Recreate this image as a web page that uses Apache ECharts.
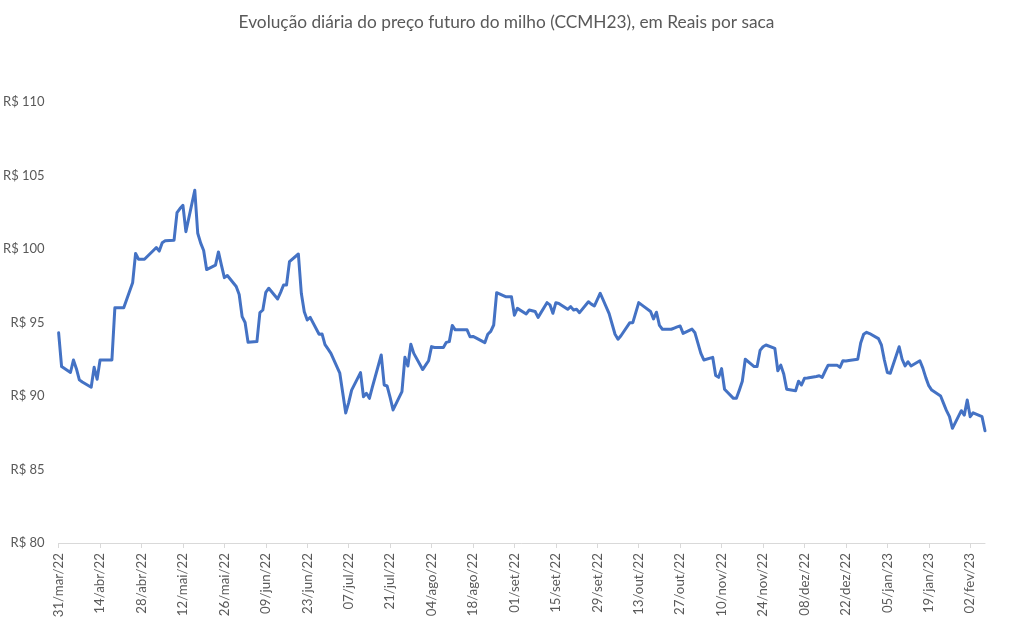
<!DOCTYPE html>
<html>
<head>
<meta charset="utf-8">
<script src="https://cdn.jsdelivr.net/npm/echarts@6/dist/echarts.min.js"></script>
<style>
html,body{margin:0;padding:0;background:#fff;}
#chart{width:1013px;height:630px;}
</style>
</head>
<body>
<div id="chart"></div>
<script>
// Chart text
const titleText = 'Evolução diária do preço futuro do milho (CCMH23), em Reais por saca';
const monthNames = ['jan','fev','mar','abr','mai','jun','jul','ago','set','out','nov','dez'];
const startDate = '2022-03-31';
const endDate = '2023-02-07';
const yTicks = [80, 85, 90, 95, 100, 105, 110];

// Closing prices for each weekday (Mon..Fri), null = no session
const firstDays = [94.3, 92.0];                     // Thu 31/mar, Fri 01/abr
const weeksApr = [
  [91.6, 92.45, 91.86, 91.1, 90.95],
  [90.6, 91.95, 91.14, 92.45, null],
  [92.45, 96.0, 96.0, null, 96.0],
  [97.7, 99.7, 99.3, 99.3, 99.3]
];
const weeksMay = [
  [99.9, 100.1, 99.86, 100.43, 100.56],
  [100.6, 102.47, 102.75, 102.97, 101.18],
  [104.0, 101.07, 100.4, 99.9, 98.6],
  [98.9, 99.8, 98.9, 98.05, 98.2],
  [97.45, 96.9, 95.4, 95.0, 93.65]
];
const weeksJun = [
  [93.7, 95.67, 95.85, 97.05, 97.33],
  [96.6, 97.05, 97.55, 97.55, 99.14],
  [99.66, 96.99, 95.73, 95.17, 95.35],
  [94.2, 94.22, 93.5, 93.2, 92.9]
];
const weeksJul = [
  [91.55, 90.2, 88.85, 89.55, 90.4],
  [91.59, 89.95, 90.18, 89.84, 90.6],
  [92.79, 90.75, 90.68, 89.9, 89.05],
  [90.3, 92.63, 92.04, 93.52, 92.9]
];
const weeksAug = [
  [91.8, 92.1, 92.4, 93.36, 93.3],
  [93.3, 93.65, 93.7, 94.8, 94.5],
  [94.5, 94.5, 94.03, 94.05, 93.95],
  [93.63, 94.2, 94.4, 94.83, 97.03],
  [96.76, 96.76, 96.76, 95.5, 95.96]
];
const weeksSep = [
  [95.58, 95.85, null, 95.75, 95.35],
  [96.35, 96.2, 95.63, 96.35, 96.3],
  [95.9, 96.08, 95.85, 95.9, 95.67],
  [96.41, 96.25, 96.12, 96.55, 96.99]
];
const weeksOct = [
  [95.6, 94.9, 94.2, 93.86, 94.1],
  [94.99, 94.99, null, 96.35, 96.2],
  [95.75, 95.25, 95.7, 94.8, 94.54],
  [94.54, 94.62, 94.7, 94.76, 94.26],
  [94.55, 94.3, null, 92.9, 92.45]
];
const weeksNov = [
  [92.63, 91.4, 91.27, 91.86, 90.46],
  [89.84, 89.84, 90.4, 91.0, 92.5],
  [92.0, 92.0, 93.1, 93.35, 93.47],
  [93.24, 91.72, 92.1, 91.5, 90.46]
];
const weeksDec = [
  [90.36, 91.0, 90.75, 91.2, 91.22],
  [91.33, 91.38, 91.27, 91.7, 92.1],
  [92.1, 91.95, 92.4, 92.38, 92.42],
  [92.5, 93.6, 94.2, 94.33, 94.25]
];
const weeksJan = [
  [93.9, 93.47, 92.45, 91.6, 91.55],
  [93.35, 92.5, 92.05, 92.33, 92.04],
  [92.4, 91.9, 91.25, 90.7, 90.4],
  [90.0, 89.5, 89.0, 88.6, 87.8],
  [89.0, 88.7, 89.73, 88.59, 88.86]
];
const lastDays = [88.59, 87.64];                    // Mon 06/fev, Tue 07/fev

// Build calendar-day categories and map weekday prices onto them
const weekdayPrices = [].concat(
  firstDays,
  ...weeksApr, ...weeksMay, ...weeksJun, ...weeksJul, ...weeksAug,
  ...weeksSep, ...weeksOct, ...weeksNov, ...weeksDec, ...weeksJan,
  lastDays
);
const categories = [];
const seriesData = [];
let wi = 0;
const s = new Date(startDate + 'T00:00:00Z');
const e = new Date(endDate + 'T00:00:00Z');
for (let t = s.getTime(); t <= e.getTime(); t += 86400000) {
  const d = new Date(t);
  const dd = String(d.getUTCDate()).padStart(2, '0');
  const yy = String(d.getUTCFullYear()).slice(2);
  categories.push(dd + '/' + monthNames[d.getUTCMonth()] + '/' + yy);
  const wd = d.getUTCDay();
  if (wd === 0 || wd === 6) {
    seriesData.push(null);
  } else {
    seriesData.push(wi < weekdayPrices.length ? weekdayPrices[wi] : null);
    wi++;
  }
}

const fontFam = 'Lato, Carlito, "Open Sans", sans-serif';
const chart = echarts.init(document.getElementById('chart'), null, {renderer: 'canvas'});
chart.setOption({
  animation: false,
  backgroundColor: '#ffffff',
  title: {
    text: titleText,
    left: 'center',
    top: 9,
    textStyle: {color: '#595959', fontSize: 17.3, fontWeight: 'normal', fontFamily: fontFam}
  },
  grid: {left: 57, right: 28, top: 102, bottom: 87, containLabel: false},
  xAxis: {
    type: 'category',
    data: categories,
    boundaryGap: false,
    axisLine: {show: true, lineStyle: {color: '#D9D9D9', width: 1}},
    axisTick: {show: true, interval: 13, length: 5, lineStyle: {color: '#D9D9D9'}},
    axisLabel: {
      interval: 13, rotate: 90, margin: 10,
      color: '#595959', fontSize: 13.3, fontFamily: fontFam
    },
    splitLine: {show: false}
  },
  yAxis: {
    type: 'value',
    min: yTicks[0],
    max: yTicks[yTicks.length - 1],
    interval: 5,
    axisLine: {show: false},
    axisTick: {show: false},
    splitLine: {show: false},
    axisLabel: {
      margin: 14,
      color: '#595959', fontSize: 13, fontFamily: fontFam,
      formatter: v => 'R$ ' + v
    }
  },
  series: [{
    type: 'line',
    data: seriesData,
    connectNulls: true,
    showSymbol: false,
    smooth: false,
    lineStyle: {color: '#4472C4', width: 3, join: 'round', cap: 'round'},
    itemStyle: {color: '#4472C4'}
  }]
});
</script>
</body>
</html>
